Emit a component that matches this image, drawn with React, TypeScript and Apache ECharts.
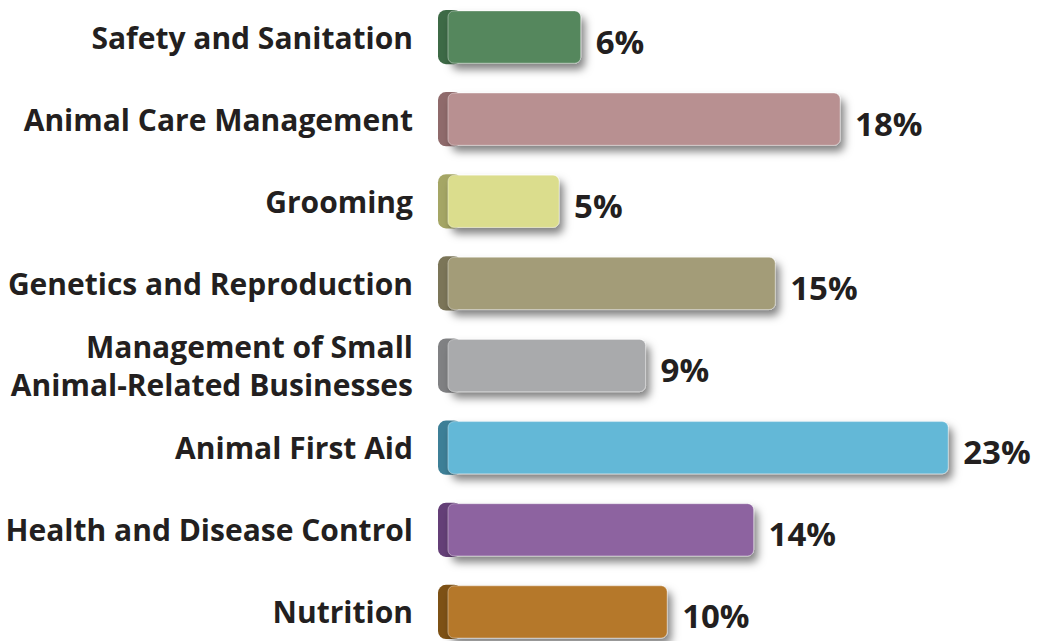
import React, { useEffect, useRef } from "react";
import * as echarts from "echarts";

const categories = [
  "Safety and Sanitation",
  "Animal Care Management",
  "Grooming",
  "Genetics and Reproduction",
  "Management of Small\nAnimal-Related Businesses",
  "Animal First Aid",
  "Health and Disease Control",
  "Nutrition",
];
const values = [6, 18, 5, 15, 9, 23, 14, 10];
const faceColors = ["#55875d", "#b89091", "#dbdd8d", "#a39c78", "#a9aaac", "#63b8d7", "#8d63a0", "#b5782c"];
const capColors = ["#3d6a46", "#8f6a6b", "#a5a665", "#7b7558", "#808183", "#3d7f97", "#643f77", "#7d5115"];

export default function App() {
  const ref = useRef<HTMLDivElement>(null);
  useEffect(() => {
    if (!ref.current) return;
    const chart = echarts.init(ref.current, undefined, { renderer: "svg" });
    const data = values.map((v, i) => [v, i]);
    chart.setOption({
      animation: false,
      grid: { left: 438, right: 30, top: 8, bottom: 0, containLabel: false },
      xAxis: { type: "value", min: -0.6, max: 26, show: false },
      yAxis: {
        type: "category",
        data: categories,
        inverse: true,
        axisLine: { show: false },
        axisTick: { show: false },
        axisLabel: {
          margin: 25,
          color: "#231f20",
          fontFamily: "Open Sans",
          fontWeight: "bold",
          fontSize: 30,
          lineHeight: 38,
          align: "right",
        },
      },
      series: [
        {
          type: "custom",
          data,
          encode: { x: 0, y: 1 },
          renderItem: (params: any, api: any) => {
            const idx = api.value(1);
            const v = api.value(0);
            const end = api.coord([v, idx]);
            const x0 = params.coordSys.x;
            const h = api.size([0, 1])[1] * 0.66;
            const y = end[1] - h / 2;
            const i = params.dataIndex;
            return {
              type: "group",
              children: [
                {
                  type: "rect",
                  shape: { x: x0, y: y, width: 24, height: h, r: 8 },
                  style: { fill: capColors[i] },
                },
                {
                  type: "rect",
                  shape: { x: x0 + 10, y: y + 1, width: end[0] - x0 - 10, height: h - 2, r: 6 },
                  style: {
                    fill: faceColors[i],
                    stroke: "rgba(255,255,255,0.35)",
                    lineWidth: 1,
                    shadowBlur: 8,
                    shadowOffsetX: 4,
                    shadowOffsetY: 6,
                    shadowColor: "rgba(0,0,0,0.5)",
                  },
                },
                {
                  type: "text",
                  x: end[0] + 15,
                  y: end[1] + 4,
                  style: {
                    text: v + "%",
                    fill: "#231f20",
                    font: "bold 33px 'Open Sans'",
                    verticalAlign: "middle",
                  },
                },
              ],
            };
          },
        },
      ],
    });
    return () => chart.dispose();
  }, []);
  return (
    <div
      ref={ref}
      style={{ position: "absolute", left: 0, top: -12, width: 1043, height: 665 }}
    />
  );
}
